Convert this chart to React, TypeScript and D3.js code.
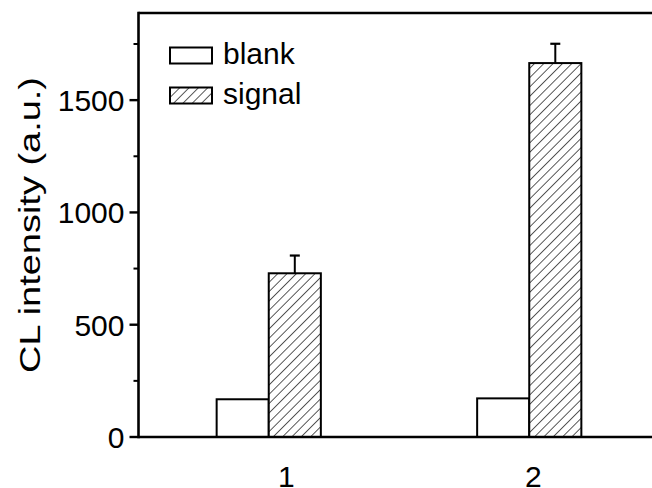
import React from "react";
import * as d3 from "d3";

const categories = ["1", "2"];
const blankValues = [168, 172];
const signalValues = [729, 1665];
const signalErrors = [79, 86];
const yTickValues = [0, 500, 1000, 1500];
const yMinorTicks = [250, 750, 1250, 1750];
const legendLabels = ["blank", "signal"];
const yTitle = "CL intensity (a.u.)";

const W = 652;
const H = 488;
const FONT = "'Liberation Sans', Arial, Helvetica, sans-serif";

export default function App() {
  const y = d3.scaleLinear().domain([0, 1888]).range([437, 13]);
  const x = d3.scaleLinear().domain([0.5, 2.5]).range([138.5, 659.5]);
  const bw = x(0.7) - x(0.5);
  const xl = d3.scaleLinear().domain([1, 2]).range([x(1) + 17.5, x(2) + 4]);
  const left = x(0.5);
  const right = x(2.5);

  return (
    <svg
      width={W}
      height={H}
      style={{ position: "absolute", left: 0, top: 0, background: "#fff" }}
      fontFamily={FONT}
    >
      <defs>
        <pattern
          id="hatch"
          patternUnits="userSpaceOnUse"
          width={6.6}
          height={6.6}
          patternTransform="rotate(45)"
        >
          <rect width={6.6} height={6.6} fill="#fff" />
          <line x1={0} y1={0} x2={0} y2={6.6} stroke="#000" strokeWidth={1.3} />
        </pattern>
        <clipPath id="clip">
          <rect x={0} y={0} width={W} height={H} />
        </clipPath>
      </defs>

      {/* bars */}
      {categories.map((c, i) => {
        const cx = x(i + 1);
        return (
          <g key={c}>
            <rect
              x={cx - bw}
              y={y(blankValues[i])}
              width={bw}
              height={y(0) - y(blankValues[i])}
              fill="#fff"
              stroke="#000"
              strokeWidth={2}
            />
            <line
              x1={cx + bw / 2}
              x2={cx + bw / 2}
              y1={y(signalValues[i])}
              y2={y(signalValues[i] + signalErrors[i])}
              stroke="#000"
              strokeWidth={2}
            />
            <line
              x1={cx + bw / 2 - 5}
              x2={cx + bw / 2 + 5}
              y1={y(signalValues[i] + signalErrors[i])}
              y2={y(signalValues[i] + signalErrors[i])}
              stroke="#000"
              strokeWidth={2.2}
            />
            <rect
              x={cx}
              y={y(signalValues[i])}
              width={bw}
              height={y(0) - y(signalValues[i])}
              fill="url(#hatch)"
              stroke="#000"
              strokeWidth={2}
            />
          </g>
        );
      })}

      {/* frame */}
      <line x1={left} x2={right} y1={y(0)} y2={y(0)} stroke="#000" strokeWidth={2.6} />
      <line x1={left} x2={right} y1={y.range()[1]} y2={y.range()[1]} stroke="#000" strokeWidth={2.4} />
      <line x1={left} x2={left} y1={y.range()[1] - 1.2} y2={y(0) + 1.3} stroke="#000" strokeWidth={2.6} />

      {/* y ticks */}
      {yTickValues.map((t) => (
        <g key={t}>
          <line x1={left - 9} x2={left} y1={y(t)} y2={y(t)} stroke="#000" strokeWidth={2.4} />
          <text
            x={left - 14}
            y={y(t)}
            dy="0.36em"
            textAnchor="end"
            fontSize={30}
            fill="#000"
          >
            {t}
          </text>
        </g>
      ))}
      {yMinorTicks.map((t) => (
        <line key={t} x1={left - 5} x2={left} y1={y(t)} y2={y(t)} stroke="#000" strokeWidth={2} />
      ))}

      {/* x labels */}
      {categories.map((c, i) => (
        <text key={c} x={xl(i + 1)} y={487} textAnchor="middle" fontSize={30} fill="#000">
          {c}
        </text>
      ))}

      {/* y title */}
      <text
        transform={`translate(40, ${(y(0) + y.range()[1]) / 2 + 0}) rotate(-90)`}
        textAnchor="middle"
        fontSize={30}
        textLength={296}
        lengthAdjust="spacingAndGlyphs"
        fill="#000"
      >
        {yTitle}
      </text>

      {/* legend */}
      {legendLabels.map((l, i) => (
        <g key={l} transform={`translate(170, ${47.5 + i * 40})`}>
          <rect
            x={0}
            y={0}
            width={42}
            height={16}
            fill={i === 0 ? "#fff" : "url(#hatch)"}
            stroke="#000"
            strokeWidth={2}
          />
          <text x={53} y={16} fontSize={30} fill="#000">
            {l}
          </text>
        </g>
      ))}
    </svg>
  );
}
